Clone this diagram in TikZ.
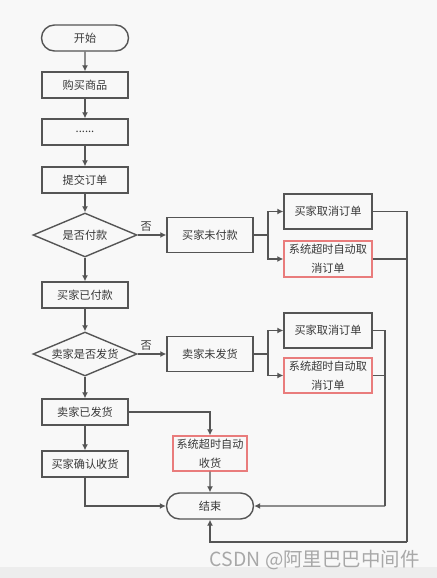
\documentclass[tikz,border=0pt]{standalone}
\usepackage{fontspec}
\setmainfont{Noto Sans CJK SC}
\usetikzlibrary{arrows.meta}
\usetikzlibrary{positioning}
\usetikzlibrary{shapes.geometric, shapes.misc}

\definecolor{linegray}{HTML}{555555}
\definecolor{softred}{HTML}{E97C7C}
\definecolor{paper}{HTML}{F8F8F8}
\definecolor{paperdark}{HTML}{EDEDED}
\definecolor{markgray}{HTML}{A8A8A8}

\tikzset{
  flowbox/.style={rectangle,draw=linegray,line width=1.4pt,fill=paper,font=\fontsize{11.2}{19}\selectfont,text=black!78,inner sep=0pt,align=center},
  timeoutbox/.style={flowbox,draw=softred},
  startstop/.style={rounded rectangle,draw=linegray,line width=1.4pt,fill=paper,font=\fontsize{11.2}{12}\selectfont,text=black!78,minimum width=87bp,minimum height=26bp,inner sep=0pt},
  decision/.style={diamond,draw=linegray,line width=1.4pt,fill=paper,font=\fontsize{11.2}{12}\selectfont,text=black!78,aspect=2.36,minimum width=104bp,minimum height=44bp,inner sep=0pt},
  flow/.style={draw=linegray,line width=1.4pt,-{Latex[length=6bp,width=6bp]}},
  railline/.style={draw=linegray,line width=1.4pt},
}

\begin{document}
\begin{tikzpicture}[x=1bp,y=-1bp]
\fill[paper] (0,0) rectangle (437,578);
\fill[paperdark] (0,567) rectangle (437,578);
\useasboundingbox (0,0) rectangle (437,578);

% left column
\node[startstop] (start) at (85,38) {开始};
\node[flowbox,minimum width=86bp,minimum height=26bp] (buy) at (85,85) {购买商品};
\node[flowbox,minimum width=86bp,minimum height=26bp] (dots) at (85,132) {......};
\node[flowbox,minimum width=86bp,minimum height=26bp] (submit) at (85,180) {提交订单};
\node[decision] (paid) at (85,235) {是否付款};
\node[flowbox,minimum width=86bp,minimum height=26bp] (haspaid) at (85,295) {买家已付款};
\node[decision] (shipped) at (85,354) {卖家是否发货};
\node[flowbox,minimum width=86bp,minimum height=26bp] (hasshipped) at (85,412) {卖家已发货};
\node[flowbox,minimum width=86bp,minimum height=26bp] (confirm) at (85,464) {买家确认收货};

% middle column
\node[flowbox,minimum width=86bp,minimum height=35bp] (notpaid) at (210,235) {买家未付款};
\node[flowbox,minimum width=86bp,minimum height=35bp] (notshipped) at (210,354) {卖家未发货};
\node[timeoutbox,minimum width=74bp,minimum height=35bp] (autoreceive) at (210,453.5) {系统超时自动\\收货};
\node[startstop] (stop) at (210,506) {结束};

% right column
\node[flowbox,minimum width=88bp,minimum height=35bp] (cancelA) at (328,211.5) {买家取消订单};
\node[timeoutbox,minimum width=88bp,minimum height=36bp] (autocancelA) at (328,259) {系统超时自动取\\消订单};
\node[flowbox,minimum width=88bp,minimum height=35bp] (cancelB) at (328,330.5) {买家取消订单};
\node[timeoutbox,minimum width=88bp,minimum height=35bp] (autocancelB) at (328,375.5) {系统超时自动取\\消订单};

\coordinate (forkA) at (268,235);
\coordinate (forkB) at (268,354);
\coordinate (railA) at (407,542);
\coordinate (railB) at (385,506);

% main flow
\draw[flow] (start) -- (buy);
\draw[flow] (buy) -- (dots);
\draw[flow] (dots) -- (submit);
\draw[flow] (submit) -- (paid);
\draw[flow] (paid) -- (haspaid);
\draw[flow] (haspaid) -- (shipped);
\draw[flow] (shipped) -- (hasshipped);
\draw[flow] (hasshipped) -- (confirm);
\draw[flow] (paid) -- node[above,font=\fontsize{11.2}{12}\selectfont,text=black!78,pos=0.3] (noA) {否} (notpaid);
\draw[flow] (shipped) -- node[above,font=\fontsize{11.2}{12}\selectfont,text=black!78,pos=0.3] (noB) {否} (notshipped);

% branches
\draw[railline] (notpaid) -- (forkA);
\draw[flow] (forkA) |- (cancelA);
\draw[flow] (forkA) |- (autocancelA);
\draw[railline] (notshipped) -- (forkB);
\draw[flow] (forkB) |- (cancelB);
\draw[flow] (forkB) |- (autocancelB);

% to the end
\draw[flow] (hasshipped) -| (autoreceive);
\draw[flow] (autoreceive) -- (stop);
\draw[flow] (confirm) |- (stop);
\draw[railline] (cancelA) -| (railA);
\draw[railline] (autocancelA) -| (railA);
\draw[flow] (railA) -| (stop.south);
\draw[railline] (cancelB) -| (railB);
\draw[railline] (autocancelB) -| (railB);
\draw[flow] (railB) -- (stop);

\node[font=\fontsize{19.5}{22}\selectfont,text=markgray,anchor=east] (mark) at (423,560) {CSDN @阿里巴巴中间件};
\end{tikzpicture}
\end{document}
